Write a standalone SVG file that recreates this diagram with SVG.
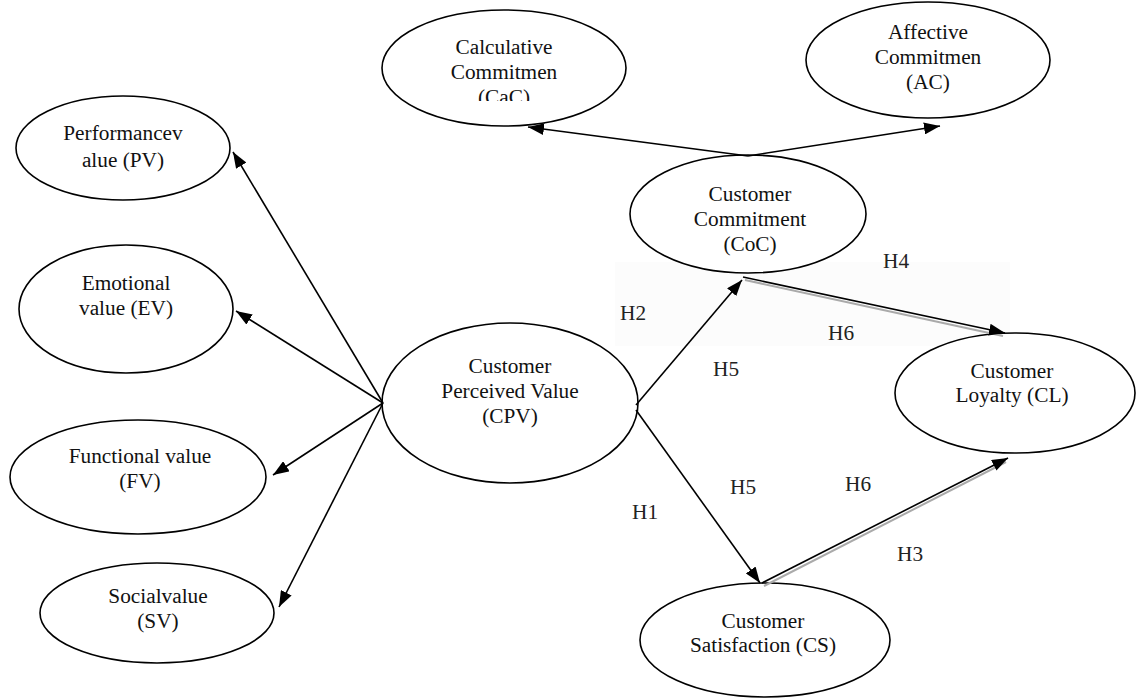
<svg xmlns="http://www.w3.org/2000/svg" width="1138" height="698" viewBox="0 0 1138 698">
<style>
.node ellipse{fill:#fff;stroke:#000;stroke-width:1.6}
text{font-family:"Liberation Serif","Times New Roman",serif;font-size:21.3px;fill:#111}
.node text{text-anchor:middle}
.c{stroke:#000;stroke-width:1.6;fill:none;marker-end:url(#ah)}
.sh{stroke:#aaa;stroke-width:2;fill:none}
.lbl{fill:#222}
</style>
<defs>
<marker id="ah" markerWidth="16" markerHeight="12" refX="16" refY="6" orient="auto" markerUnits="userSpaceOnUse"><path d="M0,0 L16,6 L0,12 z" fill="#000"/></marker>
<clipPath id="cacclip"><rect x="380" y="0" width="260" height="101"/></clipPath>
</defs>
<rect width="1138" height="698" fill="#fff"/>
<rect x="615" y="262" width="395" height="84" fill="#fcfcfc"/>
<g id="nodes">
<g id="CaC" class="node"><ellipse cx="504" cy="68" rx="122" ry="58"/><text x="504" y="54">Calculative</text><text x="504" y="79">Commitmen</text><text x="504" y="104" clip-path="url(#cacclip)">(CaC)</text></g>
<g id="AC" class="node"><ellipse cx="928" cy="60" rx="122" ry="58"/><text x="928" y="39">Affective</text><text x="928" y="64">Commitmen</text><text x="928" y="89">(AC)</text></g>
<g id="PV" class="node"><ellipse cx="123" cy="148" rx="107" ry="52"/><text x="123" y="140">Performancev</text><text x="123" y="167">alue (PV)</text></g>
<g id="EV" class="node"><ellipse cx="126" cy="309" rx="107" ry="64"/><text x="126" y="290">Emotional</text><text x="126" y="315">value (EV)</text></g>
<g id="FV" class="node"><ellipse cx="138" cy="477" rx="128" ry="57"/><text x="140" y="463">Functional value</text><text x="140" y="488">(FV)</text></g>
<g id="SV" class="node"><ellipse cx="157" cy="613" rx="117" ry="50"/><text x="158" y="603">Socialvalue</text><text x="158" y="628">(SV)</text></g>
<g id="CPV" class="node"><ellipse cx="510" cy="403" rx="128" ry="80"/><text x="510" y="373">Customer</text><text x="510" y="398">Perceived Value</text><text x="510" y="423">(CPV)</text></g>
<g id="CoC" class="node"><ellipse cx="748" cy="214" rx="118" ry="59"/><text x="750" y="201">Customer</text><text x="750" y="226">Commitment</text><text x="750" y="251">(CoC)</text></g>
<g id="CL" class="node"><ellipse cx="1015" cy="393" rx="120" ry="60"/><text x="1012" y="378">Customer</text><text x="1012" y="402">Loyalty (CL)</text></g>
<g id="CS" class="node"><ellipse cx="765" cy="640" rx="125" ry="57"/><text x="763" y="628">Customer</text><text x="763" y="652">Satisfaction (CS)</text></g>
</g>
<g id="connectors">
<line class="sh" x1="745" y1="280" x2="1003" y2="336"/>
<line class="sh" x1="764" y1="586" x2="1006" y2="462"/>
<line class="c" x1="383" y1="403" x2="233" y2="152"/>
<line class="c" x1="383" y1="403" x2="236" y2="311"/>
<line class="c" x1="383" y1="403" x2="273" y2="475"/>
<line class="c" x1="383" y1="403" x2="279" y2="607"/>
<line class="c" x1="748" y1="156" x2="528" y2="127"/>
<line class="c" x1="748" y1="156" x2="940" y2="126"/>
<line class="c" x1="636" y1="405" x2="742" y2="280"/>
<line class="c" x1="636" y1="410" x2="760" y2="583"/>
<line class="c" x1="743" y1="277" x2="1005" y2="333"/>
<line class="c" x1="762" y1="583" x2="1008" y2="458"/>
</g>
<g id="labels">
<text class="lbl" x="883" y="268" fill="#444">H4</text>
<text class="lbl" x="620" y="320">H2</text>
<text class="lbl" x="828" y="340">H6</text>
<text class="lbl" x="713" y="376">H5</text>
<text class="lbl" x="730" y="494">H5</text>
<text class="lbl" x="845" y="491">H6</text>
<text class="lbl" x="632" y="519">H1</text>
<text class="lbl" x="897" y="561">H3</text>
</g>
</svg>
